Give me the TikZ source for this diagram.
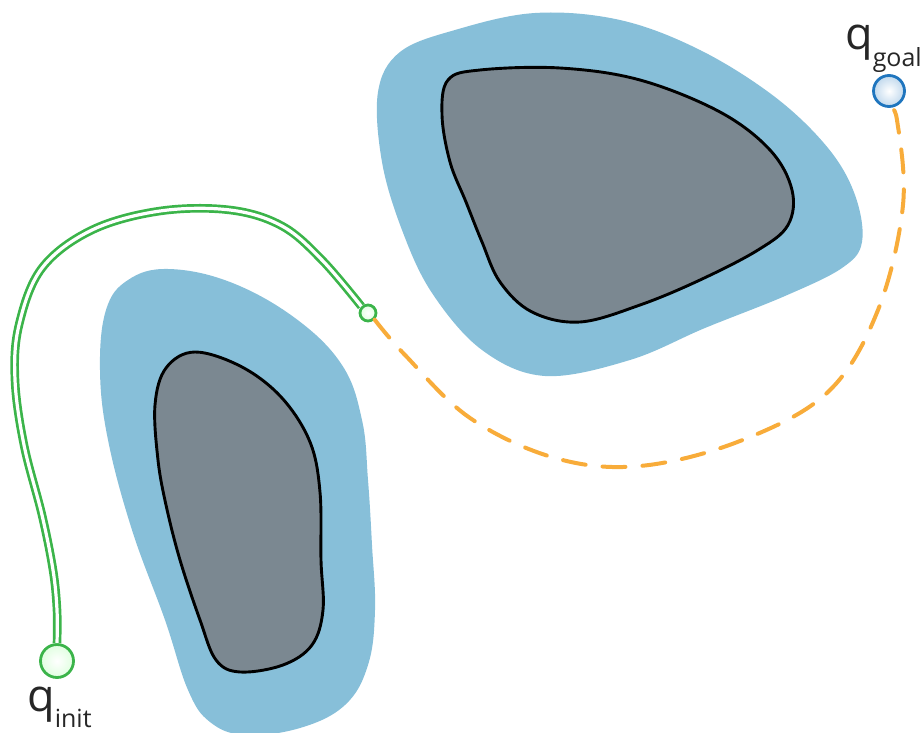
\documentclass[tikz,border=0pt]{standalone}
\usepackage{fontspec}
\setmainfont{Open Sans}
\begin{document}
\begin{tikzpicture}[x=1pt,y=-1pt,
  margin/.style={fill=obsblue, draw=none},
  obstacle/.style={fill=obsgrey, draw=black, line width=2.9pt},
  greenpath/.style={draw=pathgreen, double=white, double distance=3.2pt, line width=2.7pt},
  plannedpath/.style={draw=pathorange, line width=4pt, line cap=round, dash pattern=on 23pt off 17pt},
  waypoint/.style={circle, draw=pathgreen, line width=2.8pt, inner sep=0pt, shading=radial, inner color=white, outer color=green!12!white},
  goalpt/.style={circle, draw=goalblue, line width=2.8pt, inner sep=0pt, minimum size=31pt, shading=radial, inner color=white, outer color=goalblue!28!white},
  label/.style={font=\fontsize{45}{47}\selectfont, inner sep=0pt, text=black!85}
]
\definecolor{obsblue}{HTML}{87BFD9}
\definecolor{obsgrey}{HTML}{7B8891}
\definecolor{pathgreen}{HTML}{3BB44A}
\definecolor{pathorange}{HTML}{F8AC3A}
\definecolor{goalblue}{HTML}{1F75BE}
\useasboundingbox (0,0) rectangle (922,733);

% left obstacle with its clearance region
\fill[margin] plot[smooth cycle, tension=0.65] coordinates {
  (168,269) (230,282) (295,318) (342,365) (362,420) (368,480) (372,545)
  (375,610) (368,665) (345,705) (300,728) (245,735) (210,722) (188,690)
  (165,620) (132,530) (108,440) (100,370) (106,310) (128,280)};
\draw[obstacle] plot[smooth cycle, tension=0.6] coordinates {
  (195,352) (242,367) (282,398) (310,442) (320,492) (321,560) (323,610)
  (312,645) (283,665) (240,672) (216,660) (200,620) (180,560) (166,505)
  (158,460) (155,405) (166,368)};

% right obstacle with its clearance region
\fill[margin] plot[smooth cycle, tension=0.6] coordinates {
  (455,30) (535,13) (620,20) (700,50) (775,97) (828,148) (855,195)
  (862,242) (842,268) (785,296) (705,328) (630,360) (545,376) (482,350)
  (432,293) (402,230) (382,162) (378,92) (400,52)};
\draw[obstacle] plot[smooth cycle, tension=0.6] coordinates {
  (448,80) (480,70) (560,68) (640,80) (720,112) (770,150) (792,190)
  (788,225) (758,250) (700,280) (640,305) (580,322) (532,312) (500,282)
  (482,242) (466,202) (450,162) (442,115)};

% start, intermediate and goal configurations
\node[waypoint, minimum size=33pt] (qinit) at (57,661) {};
\node[waypoint, minimum size=16pt] (mid) at (368,313) {};
\node[goalpt] (qgoal) at (889,91) {};

\node[label, anchor=base west] (tinit) at (27,711) {q\raisebox{-0.36em}{\fontsize{25}{27}\selectfont init}};
\node[label, anchor=base west] (tgoal) at (845,50) {q\raisebox{-0.36em}{\fontsize{25}{27}\selectfont goal}};

% executed path
\draw[greenpath] plot[smooth, tension=0.6] coordinates {
  (qinit.north) (57,610) (53,570) (42,515) (24,445) (15,380) (19,325)
  (42,268) (92,230) (160,211) (230,210) (282,226) (322,260) (mid.north west)};

% remaining planned path
\draw[plannedpath] plot[smooth, tension=0.6] coordinates {
  (mid.south east) (405,355) (470,418) (555,458) (640,466) (740,441)
  (828,392) (878,310) (903,205) (897,120) (qgoal.south)};
\end{tikzpicture}
\end{document}
